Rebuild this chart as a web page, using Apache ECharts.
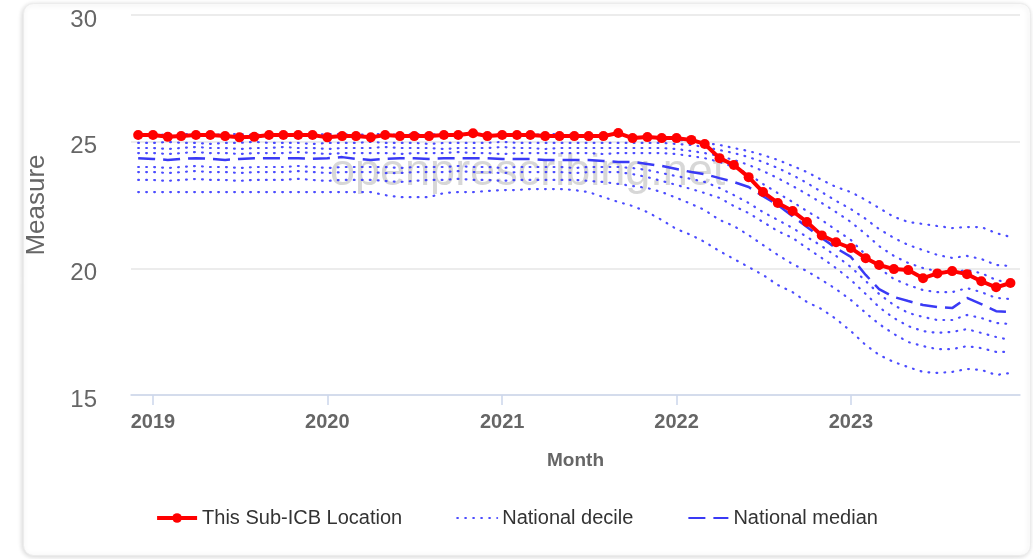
<!DOCTYPE html>
<html>
<head>
<meta charset="utf-8">
<script src="https://cdn.jsdelivr.net/npm/echarts@6/dist/echarts.min.js"></script>
<style>
html, body { margin: 0; padding: 0; background: #fff; }
#chart { width: 1033px; height: 559px; }
</style>
</head>
<body>
<div id="chart"></div>
<script>
// months, Dec 2018 .. Dec 2023
var months = [
    '2018-12',
    '2019-01', '2019-02', '2019-03', '2019-04', '2019-05', '2019-06', '2019-07', '2019-08', '2019-09', '2019-10', '2019-11', '2019-12',
    '2020-01', '2020-02', '2020-03', '2020-04', '2020-05', '2020-06', '2020-07', '2020-08', '2020-09', '2020-10', '2020-11', '2020-12',
    '2021-01', '2021-02', '2021-03', '2021-04', '2021-05', '2021-06', '2021-07', '2021-08', '2021-09', '2021-10', '2021-11', '2021-12',
    '2022-01', '2022-02', '2022-03', '2022-04', '2022-05', '2022-06', '2022-07', '2022-08', '2022-09', '2022-10', '2022-11', '2022-12',
    '2023-01', '2023-02', '2023-03', '2023-04', '2023-05', '2023-06', '2023-07', '2023-08', '2023-09', '2023-10', '2023-11', '2023-12'
];
var yearTicks = ['2019', '2020', '2021', '2022', '2023'];

var subIcb = [
    25.26, 25.26, 25.19, 25.22, 25.26, 25.26, 25.22, 25.17, 25.19, 25.26,
    25.26, 25.26, 25.26, 25.17, 25.22, 25.22, 25.17, 25.26, 25.22, 25.22,
    25.22, 25.26, 25.26, 25.33, 25.22, 25.26, 25.26, 25.26, 25.22, 25.22,
    25.22, 25.22, 25.22, 25.34, 25.14, 25.18, 25.14, 25.14, 25.07, 24.91,
    24.35, 24.08, 23.60, 23.01, 22.58, 22.26, 21.83, 21.30, 21.03, 20.80,
    20.40, 20.13, 19.97, 19.93, 19.61, 19.80, 19.89, 19.77, 19.49, 19.25,
    19.42
];
var median = [
    24.35, 24.32, 24.28, 24.32, 24.35, 24.32, 24.28, 24.32, 24.35, 24.35,
    24.35, 24.35, 24.32, 24.35, 24.39, 24.32, 24.28, 24.32, 24.35, 24.35,
    24.32, 24.35, 24.35, 24.35, 24.35, 24.32, 24.32, 24.32, 24.28, 24.28,
    24.28, 24.28, 24.24, 24.20, 24.20, 24.12, 24.04, 23.92, 23.80, 23.72,
    23.56, 23.41, 23.21, 22.85, 22.50, 22.06, 21.63, 21.20, 20.80, 20.45,
    19.74, 19.18, 18.87, 18.71, 18.55, 18.47, 18.43, 18.83, 18.59, 18.31,
    18.27
];
var decile90 = [
    25.30, 25.30, 25.26, 25.30, 25.30, 25.26, 25.30, 25.30, 25.26, 25.30,
    25.30, 25.30, 25.26, 25.30, 25.30, 25.26, 25.30, 25.30, 25.26, 25.30,
    25.30, 25.26, 25.30, 25.30, 25.26, 25.30, 25.30, 25.26, 25.30, 25.30,
    25.26, 25.26, 25.26, 25.26, 25.22, 25.14, 25.10, 25.07, 25.03, 24.95,
    24.87, 24.75, 24.63, 24.47, 24.28, 24.04, 23.80, 23.49, 23.21, 23.01,
    22.70, 22.38, 22.03, 21.83, 21.75, 21.67, 21.59, 21.63, 21.63, 21.39,
    21.24
];
var decile80 = [
    24.95, 24.95, 24.99, 24.95, 24.95, 24.91, 24.95, 24.95, 24.99, 24.95,
    24.95, 24.95, 24.91, 24.95, 24.95, 24.95, 24.99, 24.95, 24.95, 24.95,
    24.91, 24.95, 24.95, 24.95, 24.95, 24.99, 24.95, 24.95, 24.95, 24.95,
    24.95, 24.95, 24.95, 24.95, 24.95, 24.95, 24.95, 24.91, 24.87, 24.79,
    24.67, 24.55, 24.39, 24.20, 23.96, 23.68, 23.37, 23.01, 22.66, 22.34,
    21.95, 21.55, 21.20, 20.92, 20.72, 20.53, 20.41, 20.49, 20.37, 20.13,
    20.09
];
var decile70 = [
    24.75, 24.75, 24.71, 24.75, 24.79, 24.75, 24.75, 24.71, 24.75, 24.75,
    24.79, 24.75, 24.75, 24.71, 24.75, 24.75, 24.75, 24.79, 24.75, 24.75,
    24.75, 24.71, 24.75, 24.75, 24.75, 24.79, 24.75, 24.75, 24.71, 24.75,
    24.75, 24.75, 24.75, 24.75, 24.75, 24.75, 24.75, 24.71, 24.63, 24.55,
    24.43, 24.28, 24.08, 23.84, 23.56, 23.25, 22.93, 22.58, 22.22, 21.83,
    21.35, 20.88, 20.49, 20.21, 20.01, 19.89, 19.85, 19.93, 19.81, 19.54,
    19.42
];
var decile60 = [
    24.55, 24.55, 24.51, 24.55, 24.59, 24.55, 24.55, 24.51, 24.55, 24.55,
    24.55, 24.59, 24.55, 24.51, 24.55, 24.55, 24.55, 24.55, 24.51, 24.55,
    24.55, 24.55, 24.59, 24.55, 24.55, 24.51, 24.55, 24.55, 24.55, 24.55,
    24.55, 24.55, 24.51, 24.55, 24.55, 24.55, 24.55, 24.51, 24.43, 24.35,
    24.20, 24.00, 23.72, 23.33, 22.97, 22.62, 22.26, 21.91, 21.51, 21.12,
    20.53, 20.01, 19.58, 19.34, 19.14, 19.06, 19.06, 19.22, 19.06, 18.83,
    18.79
];
var decile40 = [
    24.00, 24.00, 23.96, 24.00, 24.04, 24.00, 24.00, 23.96, 24.00, 24.00,
    24.00, 24.04, 24.00, 23.96, 24.00, 24.00, 24.00, 24.00, 23.96, 24.00,
    24.00, 24.00, 24.04, 24.00, 24.00, 23.96, 24.00, 24.00, 24.00, 24.00,
    23.96, 24.00, 24.00, 24.00, 23.96, 23.88, 23.76, 23.64, 23.53, 23.41,
    23.17, 22.89, 22.58, 22.22, 21.91, 21.59, 21.24, 20.88, 20.49, 20.05,
    19.50, 18.99, 18.55, 18.24, 18.08, 17.96, 17.96, 18.16, 18.04, 17.84,
    17.80
];
var decile30 = [
    23.80, 23.80, 23.76, 23.80, 23.84, 23.80, 23.80, 23.76, 23.80, 23.80,
    23.80, 23.84, 23.80, 23.76, 23.80, 23.80, 23.80, 23.76, 23.76, 23.80,
    23.80, 23.80, 23.84, 23.80, 23.80, 23.76, 23.80, 23.80, 23.80, 23.80,
    23.76, 23.80, 23.80, 23.80, 23.72, 23.60, 23.45, 23.29, 23.13, 22.97,
    22.78, 22.46, 22.18, 21.83, 21.47, 21.20, 20.80, 20.41, 20.01, 19.54,
    18.99, 18.47, 18.04, 17.72, 17.52, 17.45, 17.49, 17.60, 17.45, 17.29,
    17.17
];
var decile20 = [
    23.49, 23.49, 23.45, 23.49, 23.53, 23.49, 23.49, 23.45, 23.49, 23.49,
    23.49, 23.53, 23.49, 23.45, 23.49, 23.49, 23.49, 23.45, 23.41, 23.45,
    23.49, 23.49, 23.53, 23.49, 23.49, 23.45, 23.49, 23.49, 23.49, 23.49,
    23.49, 23.45, 23.41, 23.33, 23.25, 23.17, 23.01, 22.78, 22.54, 22.30,
    21.91, 21.67, 21.31, 20.92, 20.53, 20.17, 19.89, 19.54, 19.18, 18.75,
    18.24, 17.80, 17.41, 17.09, 16.93, 16.81, 16.81, 16.93, 16.85, 16.70,
    16.70
];
var decile10 = [
    23.01, 23.01, 23.01, 23.01, 23.01, 23.01, 23.01, 23.01, 23.01, 23.01,
    23.01, 23.01, 23.01, 23.01, 23.01, 23.01, 23.01, 22.89, 22.81, 22.81,
    22.81, 22.97, 23.01, 23.01, 23.05, 23.09, 23.09, 23.13, 23.13, 23.13,
    23.09, 23.01, 22.81, 22.62, 22.46, 22.22, 21.91, 21.55, 21.31, 21.04,
    20.68, 20.37, 20.05, 19.74, 19.34, 19.06, 18.67, 18.39, 18.00, 17.52,
    16.97, 16.58, 16.30, 16.10, 15.91, 15.87, 15.91, 16.03, 15.99, 15.79,
    15.87
];

var deciles = [decile10, decile20, decile30, decile40, decile60, decile70, decile80, decile90];

var FONT = '"Liberation Sans", Arial, sans-serif';

function toTime(m) {
    var p = m.split('-');
    return new Date(+p[0], +p[1] - 1, 1).getTime();
}

function pairs(vals) {
    return vals.map(function (v, i) {
        return [toTime(months[i]), v];
    });
}

var tickTimes = yearTicks.map(function (y) {
    return new Date(+y, 0, 1).getTime();
});

var series = [];
deciles.forEach(function (d) {
    series.push({
        name: 'National decile',
        type: 'line',
        data: pairs(d),
        symbol: 'none',
        z: 3,
        lineStyle: {color: 'rgba(45,45,255,0.85)', width: 2.2, type: [0.8, 7.2], cap: 'round'},
        itemStyle: {color: 'rgba(45,45,255,0.85)'}
    });
});
series.push({
    name: 'National median',
    type: 'line',
    data: pairs(median),
    symbol: 'none',
    z: 4,
    lineStyle: {color: '#3a3af5', width: 2.5, type: [17, 8]},
    itemStyle: {color: '#3a3af5'}
});
series.push({
    name: 'This Sub-ICB Location',
    type: 'line',
    data: pairs(subIcb),
    symbol: 'circle',
    symbolSize: 10,
    showSymbol: true,
    z: 5,
    lineStyle: {color: '#ff0000', width: 4},
    itemStyle: {color: '#ff0000'}
});

var chart = echarts.init(document.getElementById('chart'), null, {renderer: 'canvas'});

var option = {
    animation: false,
    textStyle: {fontFamily: FONT},
    grid: {left: 131, right: 13, top: 15, bottom: 164},
    graphic: [
        {
            type: 'rect',
            z: -10,
            silent: true,
            shape: {x: 23.5, y: 3.5, width: 1007, height: 552, r: 10},
            style: {fill: '#fff', stroke: '#ececec', lineWidth: 1, shadowBlur: 5, shadowOffsetX: -1, shadowOffsetY: 1, shadowColor: 'rgba(0,0,0,0.16)'}
        },
        {
            type: 'text',
            z: 1,
            silent: true,
            left: 330,
            top: 150,
            style: {text: 'openprescribing.net', fill: 'rgba(205,205,205,0.8)', font: '45px ' + FONT}
        }
    ],
    legend: {
        top: 503,
        left: 'center',
        itemWidth: 40,
        itemHeight: 12,
        itemGap: 54,
        textStyle: {color: '#333', fontSize: 20, fontFamily: FONT},
        data: [
            {name: 'This Sub-ICB Location', lineStyle: {width: 4}},
            {name: 'National decile', itemStyle: {opacity: 0, color: 'rgba(0,0,0,0)'}},
            {name: 'National median', itemStyle: {opacity: 0, color: 'rgba(0,0,0,0)'}}
        ]
    },
    xAxis: {
        type: 'value',
        min: new Date(2018, 10, 16).getTime(),
        max: new Date(2023, 11, 21).getTime(),
        name: 'Month',
        nameLocation: 'middle',
        nameGap: 56,
        nameTextStyle: {color: '#666', fontSize: 19, fontWeight: 'bold', fontFamily: FONT},
        axisLine: {show: true, lineStyle: {color: '#ccd6eb', width: 1.5}},
        axisTick: {show: true, length: 10, customValues: tickTimes, lineStyle: {color: '#ccd6eb', width: 1.5}},
        axisLabel: {
            customValues: tickTimes,
            formatter: function (v) { return String(new Date(v).getFullYear()); },
            color: '#666',
            fontSize: 20,
            fontWeight: 'bold',
            margin: 17
        },
        splitLine: {show: false}
    },
    yAxis: {
        type: 'value',
        min: 15,
        max: 30,
        interval: 5,
        name: 'Measure',
        nameLocation: 'middle',
        nameGap: 81,
        nameRotate: 90,
        nameTextStyle: {color: '#666', fontSize: 26, fontFamily: FONT},
        axisLine: {show: false},
        axisTick: {show: false},
        axisLabel: {color: '#666', fontSize: 24, margin: 34, verticalAlign: 'top', lineHeight: 10},
        splitLine: {lineStyle: {color: '#e6e6e6', width: 1.5}}
    },
    series: series
};
chart.setOption(option);
</script>
</body>
</html>
